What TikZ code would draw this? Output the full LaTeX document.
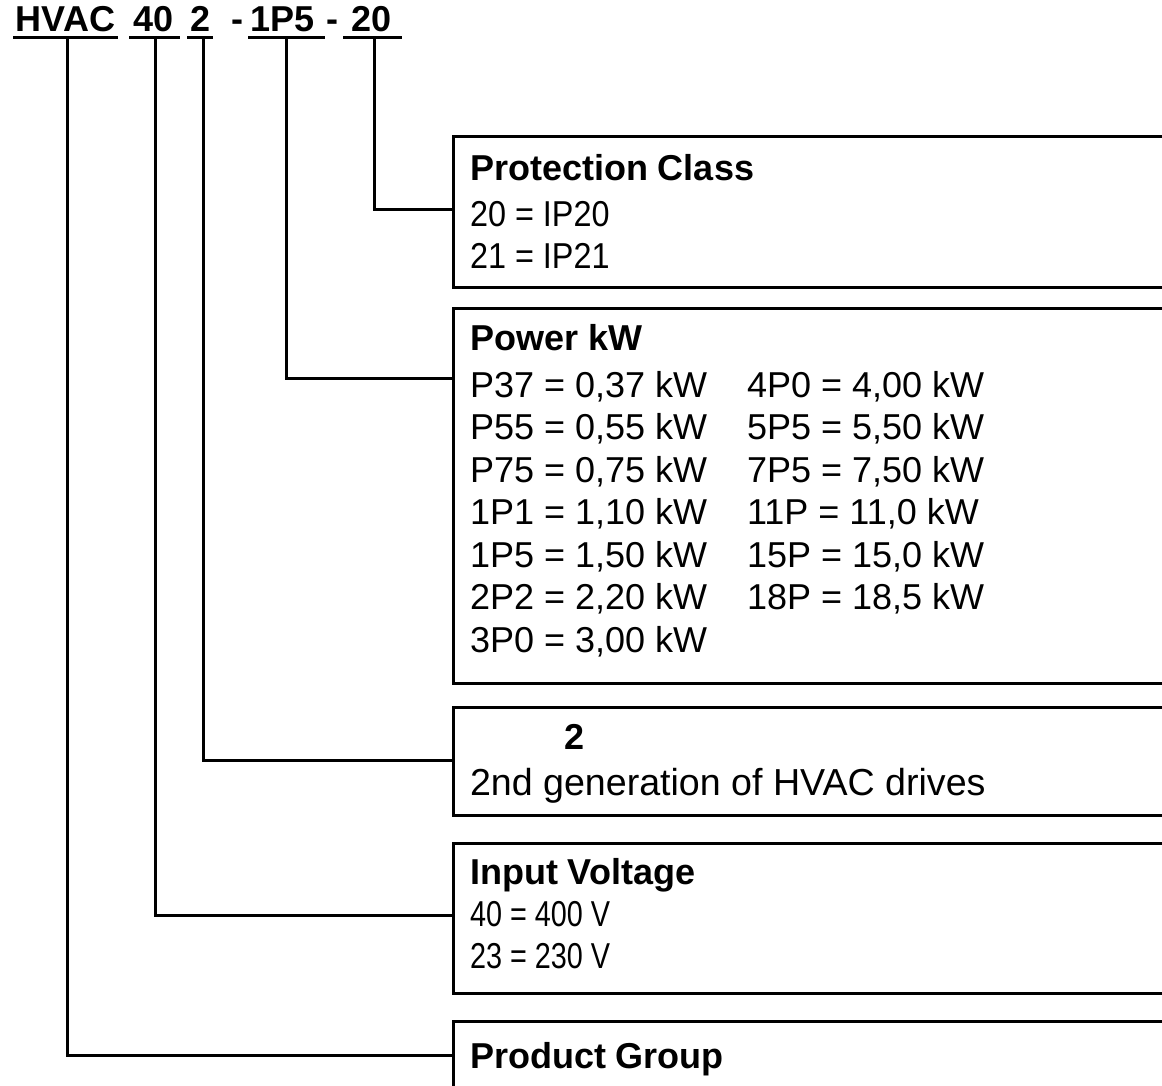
\documentclass[tikz,border=0pt]{standalone}
\usepackage{fontspec}
\setmainfont{Liberation Sans}
\newfontfamily\narrowA[FakeStretch=0.9]{Liberation Sans}
\newfontfamily\narrowB[FakeStretch=0.8]{Liberation Sans}
\begin{document}
\begin{tikzpicture}[x=1pt,y=-1pt,
  box/.style={draw, line width=3pt, rectangle, minimum width=740pt, anchor=north west, inner sep=0pt, outer sep=0pt},
  lbl/.style={anchor=base west, inner sep=0pt, outer sep=0pt, font=\fontsize{36}{40}\selectfont},
  lblA/.style={lbl, font=\fontsize{36}{40}\narrowA},
  lblB/.style={lbl, font=\fontsize{36}{40}\narrowB},
  ttl/.style={lbl, font=\fontsize{36}{40}\selectfont\bfseries},
  link/.style={line width=3pt},
  uline/.style={line width=3pt}]
\useasboundingbox (0,0) rectangle (1162,1086);
\clip (0,0) rectangle (1162,1086);
% header
\node[ttl] (hvac) at (16,32) {HVAC};
\node[ttl] (h40) at (133,32) {40};
\node[ttl] (h2) at (190,32) {2};
\node[ttl] (d1) at (231,32) {-};
\node[ttl] (h1p5) at (250,32) {1P5};
\node[ttl] (d2) at (326,32) {-};
\node[ttl] (h20) at (351,32) {20};
\draw[uline] (13,38) -- (118,38);
\draw[uline] (129,38) -- (180,38);
\draw[uline] (187,38) -- (213,38);
\draw[uline] (248,38) -- (325,38);
\draw[uline] (343,38) -- (402,38);
\coordinate (uhvac) at (67,38);
\coordinate (u40) at (155,38);
\coordinate (u2) at (203,38);
\coordinate (u1p5) at (286,38);
\coordinate (u20) at (374,38);
% boxes
\node[box, minimum height=150pt] (bpc) at (453,137) {};
\node[box, minimum height=375pt] (bpw) at (453,308) {};
\node[box, minimum height=108pt] (bgen) at (453,707) {};
\node[box, minimum height=150pt] (biv) at (453,843) {};
\node[box, minimum height=120pt] (bpg) at (453,1021) {};
\coordinate (cpc) at (453,210);
\coordinate (cpw) at (453,378);
\coordinate (cgen) at (453,760);
\coordinate (civ) at (453,915);
\coordinate (cpg) at (453,1055);
% connectors
\draw[link] (u20) |- (cpc);
\draw[link] (u1p5) |- (cpw);
\draw[link] (u2) |- (cgen);
\draw[link] (u40) |- (civ);
\draw[link] (uhvac) |- (cpg);
% protection class
\node[ttl] (tpc) at (470,181) {Protection Class};
\node[lblA] (pc1) at (470,227) {20 = IP20};
\node[lblA] (pc2) at (470,269) {21 = IP21};
% power
\node[ttl] (tpw) at (470,350) {Power kW};
\node[lbl] (pa1) at (470,397) {P37 = 0,37 kW};
\node[lbl] (pa2) at (470,439.5) {P55 = 0,55 kW};
\node[lbl] (pa3) at (470,482) {P75 = 0,75 kW};
\node[lbl] (pa4) at (470,524.5) {1P1 = 1,10 kW};
\node[lbl] (pa5) at (470,567) {1P5 = 1,50 kW};
\node[lbl] (pa6) at (470,609.5) {2P2 = 2,20 kW};
\node[lbl] (pa7) at (470,652) {3P0 = 3,00 kW};
\node[lbl] (pb1) at (747,397) {4P0 = 4,00 kW};
\node[lbl] (pb2) at (747,439.5) {5P5 = 5,50 kW};
\node[lbl] (pb3) at (747,482) {7P5 = 7,50 kW};
\node[lbl] (pb4) at (747,524.5) {11P = 11,0 kW};
\node[lbl] (pb5) at (747,567) {15P = 15,0 kW};
\node[lbl] (pb6) at (747,609.5) {18P = 18,5 kW};
% generation
\node[ttl] (tgen) at (564,749) {2};
\node[lbl, font=\fontsize{37.6}{40}\selectfont] (gen1) at (470,795) {2nd generation of HVAC drives};
% input voltage
\node[ttl] (tiv) at (470,884) {Input Voltage};
\node[lblB] (iv1) at (470,926) {40 = 400 V};
\node[lblB] (iv2) at (470,968) {23 = 230 V};
% product group
\node[ttl] (tpg) at (470,1068) {Product Group};
\end{tikzpicture}
\end{document}
